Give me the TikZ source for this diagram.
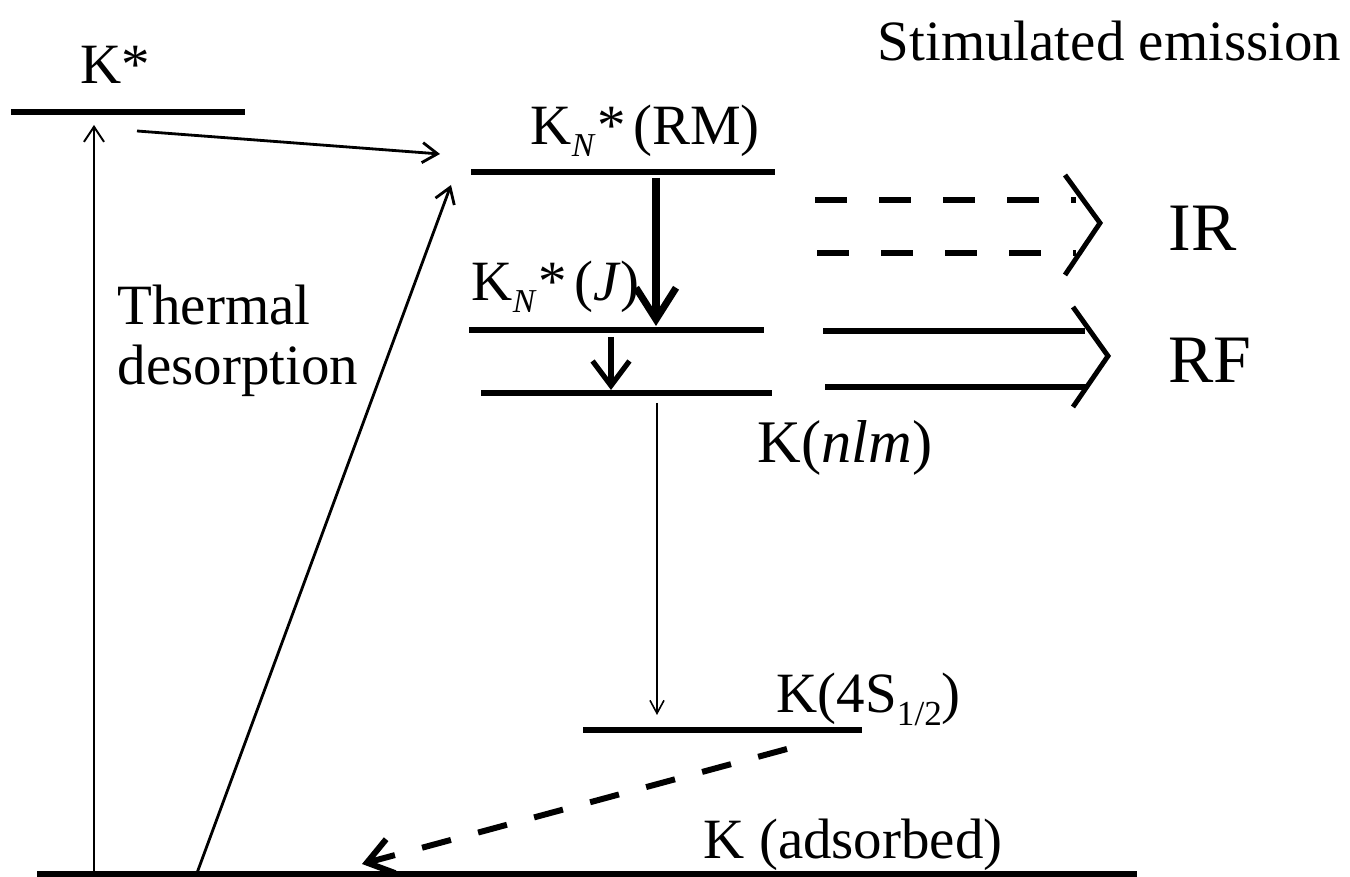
\documentclass[tikz,border=0pt]{standalone}
\usepackage{fontspec}
\setmainfont{Liberation Serif}
\usetikzlibrary{arrows.meta}
\newcommand{\mysubN}{\raisebox{-3.2pt}{\fontsize{9.5}{10}\selectfont\itshape N}}
\newcommand{\mysubhalf}{\raisebox{-3.6pt}{\fontsize{10}{10}\selectfont 1/2}}
\begin{document}
\begin{tikzpicture}[x=0.01cm,y=-0.01cm,
  level/.style={line width=1.7pt},
  lab/.style={font=\fontsize{16.2}{19}\selectfont, inner sep=0pt, anchor=base west},
  biglab/.style={font=\fontsize{19.3}{23}\selectfont, inner sep=0pt, anchor=base west},
  thinarr/.style={line width=0.55pt, -{Straight Barb[length=4.3pt,width=5.7pt]}},
  midarr/.style={line width=0.8pt, -{Straight Barb[length=4.3pt,width=5.7pt]}},
  hairarr/.style={line width=0.45pt, -{Straight Barb[length=3.7pt,width=4pt]}},
  fatarr/.style={line width=2pt, -{Straight Barb[length=9pt,width=11.4pt]}},
  smallfat/.style={line width=1.5pt, -{Straight Barb[length=7pt,width=10.5pt]}},
  dasharr/.style={line width=1.7pt, dash pattern=on 8.5pt off 8pt, -{Straight Barb[length=7pt,width=10pt]}},
  irline/.style={line width=1.7pt, dash pattern=on 9.1pt off 9.1pt},
  rfline/.style={line width=1.7pt},
  chev/.style={line width=1.4pt, line join=miter}
]
\useasboundingbox (0,0) rectangle (1350,877);

% levels
\coordinate (ksL) at (11,112);   \coordinate (ksR) at (245,112);
\coordinate (rmL) at (471,172);  \coordinate (rmR) at (775,172);
\coordinate (jL)  at (469,330);  \coordinate (jR)  at (764,330);
\coordinate (nlmL) at (481,393); \coordinate (nlmR) at (772,393);
\coordinate (gsL) at (583,730);  \coordinate (gsR) at (862,730);
\coordinate (adL) at (37,874);   \coordinate (adR) at (1137,874);
\draw[level] (ksL) -- (ksR);
\draw[level] (rmL) -- (rmR);
\draw[level] (jL) -- (jR);
\draw[level] (nlmL) -- (nlmR);
\draw[level] (gsL) -- (gsR);
\draw[level] (adL) -- (adR);

% labels
\node[lab] (tks) at (80,84) {K*};
\node[lab] (tstim) at (877,61) {Stimulated emission};
\node[lab] (trm) at (530,145) {K\mysubN\kern1pt*\kern2pt(RM)};
\node[lab] (tj) at (471,301) {K\mysubN\kern1pt*\kern2pt(\textit{J})};
\node[lab] (tth) at (117,325) {Thermal};
\node[lab] (tdes) at (117,385) {desorption};
\node[lab, font=\fontsize{17.2}{20}\selectfont] (tnlm) at (757,463) {K(\textit{nlm})};
\node[lab] (t4s) at (776,713) {K(4S\mysubhalf)};
\node[lab] (tad) at (703,859) {K (adsorbed)};
\node[biglab] (tir) at (1168,251) {IR};
\node[biglab] (trf) at (1168,383) {RF};

% arrows
\coordinate (a1s) at (94,873);  \coordinate (a1e) at (94,125);
\coordinate (a2s) at (137,131); \coordinate (a2e) at (440,154);
\coordinate (a3s) at (197,873); \coordinate (a3e) at (451,185);
\coordinate (a4s) at (656,178); \coordinate (a4e) at (656,326);
\coordinate (a5s) at (611,337); \coordinate (a5e) at (611,390);
\coordinate (a6s) at (657,403); \coordinate (a6e) at (657,715);
\coordinate (a7s) at (787,749); \coordinate (a7e) at (362,864);
\draw[thinarr] (a1s) -- (a1e);
\draw[midarr] (a2s) -- (a2e);
\draw[midarr] (a3s) -- (a3e);
\draw[fatarr] (a4s) -- (a4e);
\draw[smallfat] (a5s) -- (a5e);
\draw[hairarr] (a6s) -- (a6e);
\draw[dasharr] (a7s) -- (a7e);

% IR double dashed arrow
\coordinate (ir1s) at (815,200); \coordinate (ir1e) at (1076,200);
\coordinate (ir2s) at (817,253); \coordinate (ir2e) at (1076,253);
\draw[irline] (ir1s) -- (ir1e);
\draw[irline] (ir2s) -- (ir2e);
\coordinate (irc1) at (1065,175); \coordinate (irc2) at (1100,223); \coordinate (irc3) at (1065,275);
\draw[chev] (irc1) -- (irc2) -- (irc3);

% RF double arrow
\coordinate (rf1s) at (823,331); \coordinate (rf1e) at (1085,331);
\coordinate (rf2s) at (825,387); \coordinate (rf2e) at (1087,387);
\draw[rfline] (rf1s) -- (rf1e);
\draw[rfline] (rf2s) -- (rf2e);
\coordinate (rfc1) at (1073,307); \coordinate (rfc2) at (1108,356); \coordinate (rfc3) at (1073,407);
\draw[chev] (rfc1) -- (rfc2) -- (rfc3);
\end{tikzpicture}
\end{document}
